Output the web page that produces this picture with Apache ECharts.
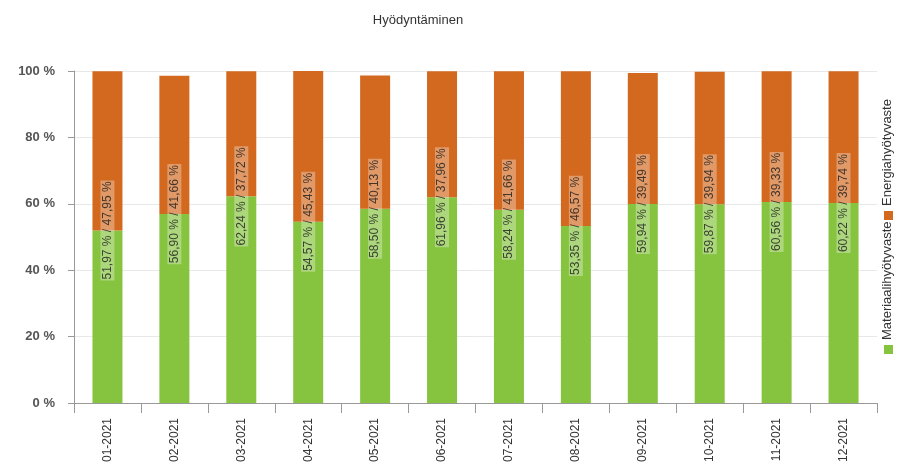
<!DOCTYPE html>
<html>
<head>
<meta charset="utf-8">
<script src="https://cdn.jsdelivr.net/npm/echarts@6/dist/echarts.min.js"></script>
<style>
  html, body { margin: 0; padding: 0; background: #fff; }
  #chart { width: 902px; height: 462px; }
</style>
</head>
<body>
<div id="chart"></div>
<script>
// kuukaudet
var months = ['01-2021', '02-2021', '03-2021', '04-2021', '05-2021', '06-2021',
  '07-2021', '08-2021', '09-2021', '10-2021', '11-2021', '12-2021']
var materiaali = [51.97, 56.90, 62.24, 54.57, 58.50, 61.96, 58.24, 53.35, 59.94, 59.87, 60.56, 60.22]
var energia = [47.95, 41.66, 37.72, 45.43, 40.13, 37.96, 41.66, 46.57, 39.49, 39.94, 39.33, 39.74]
var yTicks = [0, 20, 40, 60, 80, 100]

var GREEN = '#86c440'
var ORANGE = '#d2691f'

function fi(v) {
  return v.toFixed(2).replace('.', ',') + ' %'
}

var chart = echarts.init(document.getElementById('chart'))

var option = {
  animation: false,
  title: {
    text: 'Hyödyntäminen',
    left: 413,
    top: 9,
    textAlign: 'center',
    textStyle: {
      fontFamily: 'Liberation Sans, Arial, sans-serif',
      fontSize: 13,
      fontWeight: 'normal',
      color: '#333'
    }
  },
  grid: {
    left: 74,
    right: 25,
    top: 71,
    bottom: 59,
    containLabel: false,
    outerBoundsMode: 'none'
  },
  xAxis: {
    type: 'category',
    data: months,
    axisLine: { lineStyle: { color: '#999', width: 1 } },
    axisTick: { show: true, length: 10, lineStyle: { color: '#999' } },
    axisLabel: {
      rotate: 90,
      margin: 15,
      fontFamily: 'Liberation Sans Narrow, Liberation Sans, Arial, sans-serif',
      fontSize: 12,
      color: '#333'
    }
  },
  yAxis: {
    type: 'value',
    min: yTicks[0],
    max: yTicks[yTicks.length - 1],
    interval: 20,
    axisLine: { show: true, lineStyle: { color: '#999' } },
    axisTick: { show: true, length: 6, lineStyle: { color: '#999' } },
    splitLine: { lineStyle: { color: '#e8e8e8' } },
    axisLabel: {
      margin: 19,
      fontFamily: 'Liberation Sans, Arial, sans-serif',
      fontSize: 13,
      fontWeight: 'bold',
      color: '#555',
      formatter: function(v) {
        return v + ' %'
      }
    }
  },
  series: [
    {
      name: 'Materiaalihyötyvaste',
      type: 'bar',
      stack: 'all',
      barWidth: 30,
      itemStyle: { color: GREEN },
      data: materiaali
    },
    {
      name: 'Energiahyötyvaste',
      type: 'bar',
      stack: 'all',
      barWidth: 30,
      itemStyle: { color: ORANGE },
      data: energia
    },
    {
      // tekstit rajakohtaan
      type: 'scatter',
      symbolSize: 0,
      silent: true,
      z: 10,
      data: materiaali.map(function(v, i) {
        return {
          value: [i, v],
          label: {
            show: true,
            position: 'inside',
            rotate: 90,
            formatter: fi(v) + ' / ' + fi(energia[i]),
            fontFamily: 'Liberation Sans Narrow, Liberation Sans, Arial, sans-serif',
            fontSize: 12,
            color: '#1a1a1a',
            backgroundColor: 'rgba(255,255,255,0.4)',
            padding: [1, 1]
          }
        }
      })
    }
  ],
  graphic: [
    {
      type: 'rect',
      left: 884,
      top: 345,
      shape: { width: 9, height: 9 },
      style: { fill: GREEN }
    },
    {
      type: 'text',
      x: 881,
      y: 340,
      rotation: Math.PI / 2,
      style: {
        text: 'Materiaalihyötyvaste',
        fontFamily: 'Liberation Sans Narrow, Liberation Sans, Arial, sans-serif',
        fontSize: 13,
        fill: '#333',
        align: 'left',
        verticalAlign: 'top'
      }
    },
    {
      type: 'rect',
      left: 884,
      top: 211,
      shape: { width: 9, height: 9 },
      style: { fill: ORANGE }
    },
    {
      type: 'text',
      x: 881,
      y: 206,
      rotation: Math.PI / 2,
      style: {
        text: 'Energiahyötyvaste',
        fontFamily: 'Liberation Sans Narrow, Liberation Sans, Arial, sans-serif',
        fontSize: 13,
        fill: '#333',
        align: 'left',
        verticalAlign: 'top'
      }
    }
  ]
}

chart.setOption(option)
</script>
</body>
</html>
